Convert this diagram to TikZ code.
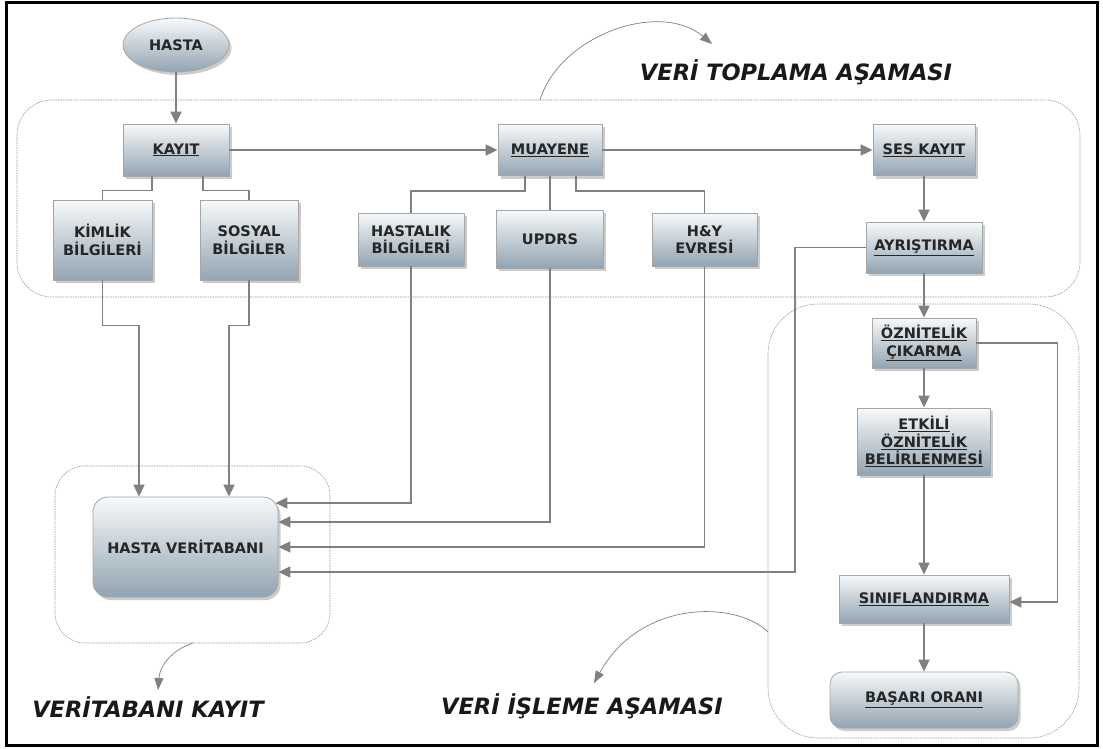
\documentclass[tikz,border=0pt]{standalone}
\usepackage{fontspec}
\setmainfont{DejaVu Sans}
\usetikzlibrary{arrows.meta,shapes.geometric,shadows,calc}
\definecolor{boxtop}{RGB}{247,249,250}
\definecolor{boxbot}{RGB}{146,164,178}
\definecolor{conncol}{RGB}{128,128,128}
\definecolor{regcol}{RGB}{150,150,150}
\begin{document}
\begin{tikzpicture}[x=1pt,y=-1pt,
  box/.style={draw=gray!70, line width=0.8pt, top color=boxtop, bottom color=boxbot,
    drop shadow={shadow xshift=2.5pt, shadow yshift=-3pt, opacity=0.4},
    align=center, font=\fontsize{14.5}{17.5}\selectfont\bfseries, text=black!85, inner sep=2pt},
  conn/.style={draw=conncol, line width=1.8pt, -{Triangle[length=12pt,width=11pt]}},
  link/.style={draw=conncol, line width=1.8pt},
  region/.style={draw=regcol, dash pattern=on 1.5pt off 1pt, line width=0.6pt},
  title/.style={font=\fontsize{22.5}{26}\selectfont\bfseries\itshape, text=black!90},
  thinarrow/.style={draw=gray, line width=0.7pt, -{Triangle[length=12pt,width=9pt]}}
]
\useasboundingbox (0,0) rectangle (1103,749);
\fill[white] (0,0) rectangle (1103,749);
\draw[line width=3pt] (6,2.5) rectangle (1097,745.5);

% regions
\draw[region, rounded corners=35pt] (17,100) rectangle (1080,297);
\draw[region, rounded corners=30pt] (55,466) rectangle (330,643);
\draw[region, rounded corners=50pt] (768,304) rectangle (1079,738);

% nodes
\node[box, ellipse, minimum width=106pt, minimum height=54pt] (hasta) at (176,45) {HASTA};
\node[box, minimum width=106pt, minimum height=52pt] (kayit) at (176,150) {\underline{KAYIT}};
\node[box, minimum width=104pt, minimum height=51pt] (muayene) at (550,150) {\underline{MUAYENE}};
\node[box, minimum width=102pt, minimum height=51pt] (ses) at (924,150) {\underline{SES KAYIT}};
\node[box, minimum width=99pt, minimum height=80pt] (kimlik) at (102.5,240) {KİMLİK\\BİLGİLERİ};
\node[box, minimum width=98pt, minimum height=80pt] (sosyal) at (249,240) {SOSYAL\\BİLGİLER};
\node[box, minimum width=106pt, minimum height=53pt] (hastalik) at (411,239.5) {HASTALIK\\BİLGİLERİ};
\node[box, minimum width=107pt, minimum height=58pt] (updrs) at (550,239) {UPDRS};
\node[box, minimum width=105pt, minimum height=53pt] (hy) at (704.5,239.5) {H\&Y\\EVRESİ};
\node[box, minimum width=116pt, minimum height=51pt] (ayr) at (924,247.5) {\underline{AYRIŞTIRMA}};
\node[box, minimum width=104pt, minimum height=50pt] (ozn) at (924,343) {\underline{ÖZNİTELİK}\\\underline{ÇIKARMA}};
\node[box, minimum width=133pt, minimum height=67pt] (etkili) at (924,441.5) {\underline{ETKİLİ}\\\underline{ÖZNİTELİK}\\\underline{BELİRLENMESİ}};
\node[box, minimum width=170pt, minimum height=48pt] (sinif) at (924,599) {\underline{SINIFLANDIRMA}};
\node[box, rounded corners=12pt, minimum width=188pt, minimum height=56pt] (basari) at (924,700) {\underline{BAŞARI ORANI}};
\node[box, rounded corners=15pt, minimum width=185pt, minimum height=100pt] (hdb) at (185.5,547) {HASTA VERİTABANI};

% connectors
\draw[conn] (hasta) -- (kayit);
\draw[conn] (kayit) -- (muayene);
\draw[conn] (muayene) -- (ses);
\draw[link] ([xshift=-24pt]kayit.south) -- ++(0,14) -| (kimlik.north);
\draw[link] ([xshift=27pt]kayit.south) -- ++(0,14) -| (sosyal.north);
\draw[link] ([xshift=-25pt]muayene.south) -- ++(0,15) -| (hastalik.north);
\draw[link] (muayene.south) -- (updrs.north);
\draw[link] ([xshift=26pt]muayene.south) -- ++(0,15) -| (hy.north);
\draw[conn] (kimlik.south) -- ++(0,45) -| ([xshift=-46.5pt]hdb.north);
\draw[conn] (sosyal.south) -- ++(0,45) -| ([xshift=43.5pt]hdb.north);
\draw[conn] (hastalik.south) |- ([xshift=-3pt,yshift=44pt]hdb.east);
\draw[conn] (updrs.south) |- ([yshift=25pt]hdb.east);
\draw[conn] (hy.south) |- (hdb.east);
\draw[conn] (ayr.west) -- ++(-71,0) |- ([yshift=-25pt]hdb.east);
\draw[conn] (ses) -- (ayr);
\draw[conn] (ayr) -- (ozn);
\draw[conn] (ozn) -- (etkili);
\draw[conn] (etkili) -- (sinif);
\draw[conn] (sinif) -- (basari);
\draw[conn] (ozn.east) -- ++(81,0) |- ([yshift=-3pt]sinif.east);

% titles
\node[title] (t1) at (796,72) {VERİ TOPLAMA AŞAMASI};
\node[title] (t2) at (148,707) {VERİTABANI KAYIT};
\node[title] (t3) at (582,706) {VERİ İŞLEME AŞAMASI};

% curved arrows
\coordinate (c1s) at (540,100);
\coordinate (c1e) at (712,44);
\draw[thinarrow] (c1s) .. controls (560,35) and (660,0) .. (c1e);
\coordinate (c2s) at (193,643);
\coordinate (c2e) at (158,690);
\draw[thinarrow] (c2s) .. controls (172,650) and (160,665) .. (c2e);
\coordinate (c3s) at (768,632);
\coordinate (c3e) at (594,683);
\draw[thinarrow] (c3s) .. controls (735,600) and (640,600) .. (c3e);
\end{tikzpicture}
\end{document}
